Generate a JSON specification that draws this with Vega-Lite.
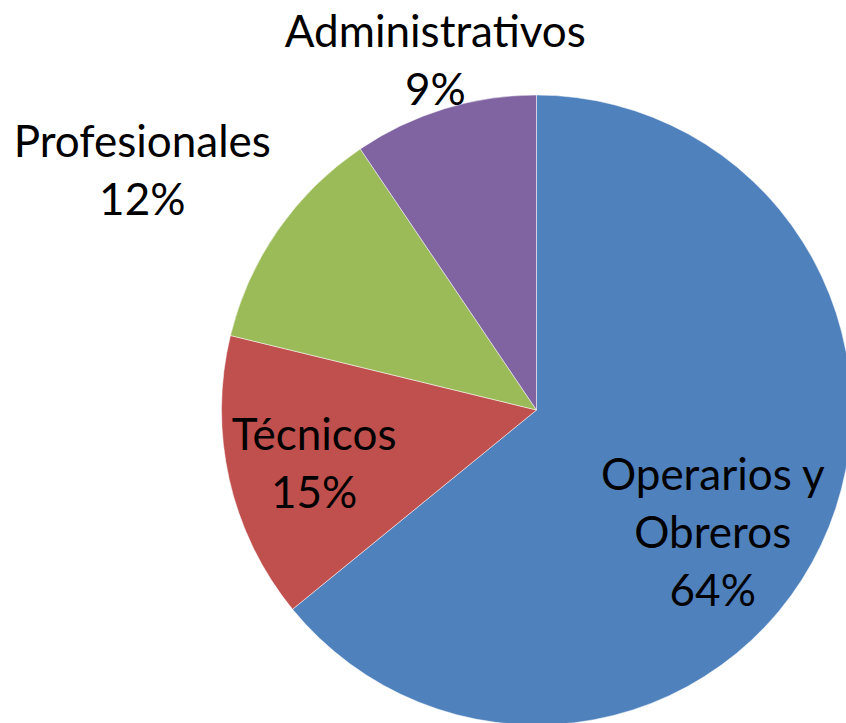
{
  "$schema": "https://vega.github.io/schema/vega-lite/v6.json",
  "width": 619,
  "height": 626,
  "autosize": "none",
  "padding": {"left": 227, "top": 97, "right": 0, "bottom": 0},
  "background": "white",
  "config": {"view": {"stroke": null}},
  "data": {
    "values": [
      {"cat": "Operarios y Obreros", "value": 64.1, "label": "Operarios y\nObreros\n64%"},
      {"cat": "Técnicos", "value": 14.7, "label": "Técnicos\n15%"},
      {"cat": "Profesionales", "value": 11.75, "label": "Profesionales\n12%"},
      {"cat": "Administrativos", "value": 9.45, "label": "Administrativos\n9%"}
    ]
  },
  "transform": [{"window": [{"op": "row_number", "as": "orden"}]}],
  "encoding": {
    "theta": {"field": "value", "type": "quantitative", "stack": true},
    "order": {"field": "orden", "type": "quantitative", "sort": "ascending"}
  },
  "layer": [
    {
      "mark": {"type": "arc", "outerRadius": 315, "stroke": "white", "strokeWidth": 0.5},
      "encoding": {
        "color": {
          "field": "cat",
          "type": "nominal",
          "scale": {
            "domain": ["Operarios y Obreros", "Técnicos", "Profesionales", "Administrativos"],
            "range": ["#4F81BD", "#C0504D", "#9BBB59", "#8064A2"]
          },
          "legend": null
        }
      }
    },
    {
      "mark": {"type": "text", "radius": 228, "dy": -23, "font": "Lato", "fontSize": 44, "lineBreak": "\n", "lineHeight": 58, "align": "center", "baseline": "middle", "color": "black"},
      "encoding": {"text": {"condition": {"test": "datum.cat === 'Técnicos'", "field": "label", "type": "nominal"}, "value": ""}}
    },
    {
      "mark": {"type": "text", "radius": 363, "dx": 5, "dy": -29, "font": "Lato", "fontSize": 44, "lineBreak": "\n", "lineHeight": 58, "align": "center", "baseline": "middle", "color": "black"},
      "encoding": {"text": {"condition": {"test": "datum.cat === 'Administrativos'", "field": "label", "type": "nominal"}, "value": ""}}
    },
    {
      "mark": {"type": "text", "radius": 215, "dx": -18, "dy": -25, "font": "Lato", "fontSize": 44, "lineBreak": "\n", "lineHeight": 58, "align": "center", "baseline": "middle", "color": "black"},
      "encoding": {"text": {"condition": {"test": "datum.cat === 'Operarios y Obreros'", "field": "label", "type": "nominal"}, "value": ""}}
    },
    {
      "mark": {"type": "text", "radius": 462, "dx": -15, "dy": -2, "font": "Lato", "fontSize": 44, "lineBreak": "\n", "lineHeight": 58, "align": "center", "baseline": "middle", "color": "black"},
      "encoding": {"text": {"condition": {"test": "datum.cat === 'Profesionales'", "field": "label", "type": "nominal"}, "value": ""}}
    }
  ]
}
